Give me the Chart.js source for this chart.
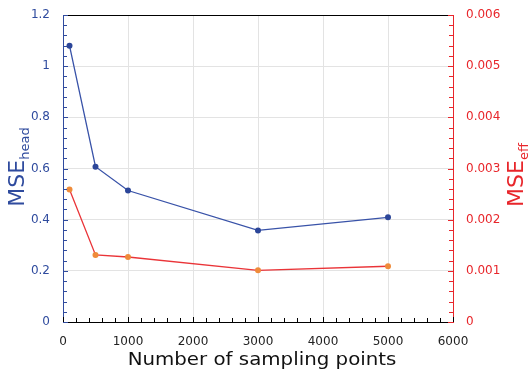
<!DOCTYPE html>
<html>
<head>
<meta charset="utf-8">
<script src="https://cdn.jsdelivr.net/npm/chart.js@4"></script>
<style>
  html, body { margin: 0; padding: 0; background: #fff; }
  canvas { display: block; }
</style>
</head>
<body>
<canvas id="chart-mse" width="528" height="372"></canvas>
<script>
// data
const samplingPoints = [100, 500, 1000, 3000, 5000];
const mseHead = [1.08, 0.607, 0.514, 0.358, 0.409];
const mseEff = [0.00259, 0.00131, 0.00127, 0.00101, 0.00109];

const xTicks = [0, 1000, 2000, 3000, 4000, 5000, 6000];
const headTicks = [0, 0.2, 0.4, 0.6, 0.8, 1, 1.2];
const effTicks = [0, 0.001, 0.002, 0.003, 0.004, 0.005, 0.006];

/* colours */
const blue = '#2f4b9e';
const red = '#e8262b';
const gridColor = '#e3e3e3';
const font = 'DejaVu Sans';

// inward ticks, frame top line and the axis titles with subscripts
const decorations = {
    id: 'decorations',
    afterDraw(chart) {
        const ctx = chart.ctx;
        const a = chart.chartArea;
        const x = chart.scales.x, y = chart.scales.y, y1 = chart.scales.y1;
        ctx.save();
        ctx.lineWidth = 1;

        // top frame line
        ctx.strokeStyle = '#000';
        ctx.beginPath();
        ctx.moveTo(a.left, Math.round(a.top) + 0.5);
        ctx.lineTo(a.right, Math.round(a.top) + 0.5);
        ctx.stroke();

        // left axis ticks
        ctx.strokeStyle = blue;
        ctx.beginPath();
        for (let i = 0; i <= 30; i++) {
            const py = Math.round(y.getPixelForValue(i * 0.04)) + 0.5;
            ctx.moveTo(a.left, py);
            ctx.lineTo(a.left + (i % 5 === 0 ? 5 : 4), py);
        }
        ctx.stroke();

        // right axis ticks
        ctx.strokeStyle = red;
        ctx.beginPath();
        for (let i = 0; i <= 30; i++) {
            const py = Math.round(y1.getPixelForValue(i * 0.0002)) + 0.5;
            ctx.moveTo(a.right, py);
            ctx.lineTo(a.right - (i % 5 === 0 ? 5 : 4), py);
        }
        ctx.stroke();

        // bottom ticks
        ctx.strokeStyle = '#000';
        ctx.beginPath();
        for (let i = 0; i <= 30; i++) {
            const px = Math.round(x.getPixelForValue(i * 200)) + 0.5;
            ctx.moveTo(px, a.bottom);
            ctx.lineTo(px, a.bottom - (i % 5 === 0 ? 5 : 4));
        }
        ctx.stroke();

        // x title
        ctx.fillStyle = '#111';
        ctx.font = '18px "' + font + '"';
        ctx.textAlign = 'center';
        ctx.textBaseline = 'middle';
        ctx.save();
        ctx.translate(262, 360);
        ctx.scale(1.1, 1);
        ctx.fillText('Number of sampling points', 0, 0);
        ctx.restore();

        // y titles, rotated, with subscript
        drawSubTitle(ctx, 16, 167, 'MSE', 'head', blue);
        drawSubTitle(ctx, 515, 175, 'MSE', 'eff', red);
        ctx.restore();
    }
};

function drawSubTitle(ctx, cx, cy, main, sub, color) {
    ctx.save();
    ctx.translate(cx, cy);
    ctx.rotate(-Math.PI / 2);
    ctx.fillStyle = color;
    ctx.textAlign = 'left';
    ctx.textBaseline = 'alphabetic';
    ctx.font = '22px "' + font + '"';
    const wMain = ctx.measureText(main).width;
    ctx.font = '13px "' + font + '"';
    const wSub = ctx.measureText(sub).width;
    const start = -(wMain + wSub) / 2;
    ctx.font = '22px "' + font + '"';
    ctx.fillText(main, start, 8);
    ctx.font = '13px "' + font + '"';
    ctx.fillText(sub, start + wMain, 13);
    ctx.restore();
}

const fmt = (v) => String(+v.toFixed(4));
// invisible outward tick marks keep the labels 13px off the axis
const hiddenTicks = { drawTicks: true, tickLength: 13, tickColor: 'rgba(0,0,0,0)' };

new Chart(document.getElementById('chart-mse'), {
    type: 'scatter',
    data: {
        datasets: [
            {
                label: 'MSE head',
                data: samplingPoints.map((p, i) => ({ x: p, y: mseHead[i] })),
                yAxisID: 'y',
                showLine: true,
                borderColor: '#3852a8',
                borderWidth: 1.3,
                backgroundColor: '#2c4699',
                pointBorderColor: '#2c4699',
                pointRadius: 3,
                pointBorderWidth: 0
            },
            {
                label: 'MSE eff',
                data: samplingPoints.map((p, i) => ({ x: p, y: mseEff[i] })),
                yAxisID: 'y1',
                showLine: true,
                borderColor: '#ea3438',
                borderWidth: 1.3,
                backgroundColor: '#ef8b3a',
                pointBorderColor: '#ef8b3a',
                pointRadius: 3,
                pointBorderWidth: 0
            }
        ]
    },
    options: {
        responsive: false,
        animation: false,
        layout: { padding: { top: 15, left: 0, right: 0, bottom: 0 } },
        plugins: {
            legend: { display: false },
            tooltip: { enabled: false }
        },
        scales: {
            x: {
                type: 'linear',
                min: 0,
                max: 6000,
                afterBuildTicks: (s) => { s.ticks = xTicks.map(v => ({ value: v })); },
                afterFit: (s) => { s.height = 50; },
                ticks: { color: '#222', font: { family: font, size: 12 }, padding: 0, maxRotation: 0, callback: (v) => String(v) },
                grid: { color: gridColor, ...hiddenTicks },
                border: { color: '#000', width: 1 }
            },
            y: {
                position: 'left',
                min: 0,
                max: 1.2,
                afterBuildTicks: (s) => { s.ticks = headTicks.map(v => ({ value: v })); },
                afterFit: (s) => { s.width = 63; },
                ticks: { color: blue, font: { family: font, size: 12 }, padding: 0, callback: fmt },
                grid: { color: gridColor, ...hiddenTicks },
                border: { color: blue, width: 1 }
            },
            y1: {
                position: 'right',
                min: 0,
                max: 0.006,
                afterBuildTicks: (s) => { s.ticks = effTicks.map(v => ({ value: v })); },
                afterFit: (s) => { s.width = 75; },
                ticks: { color: red, font: { family: font, size: 12 }, padding: 0, callback: fmt },
                grid: { drawOnChartArea: false, ...hiddenTicks },
                border: { color: red, width: 1 }
            }
        }
    },
    plugins: [decorations]
});
</script>
</body>
</html>
